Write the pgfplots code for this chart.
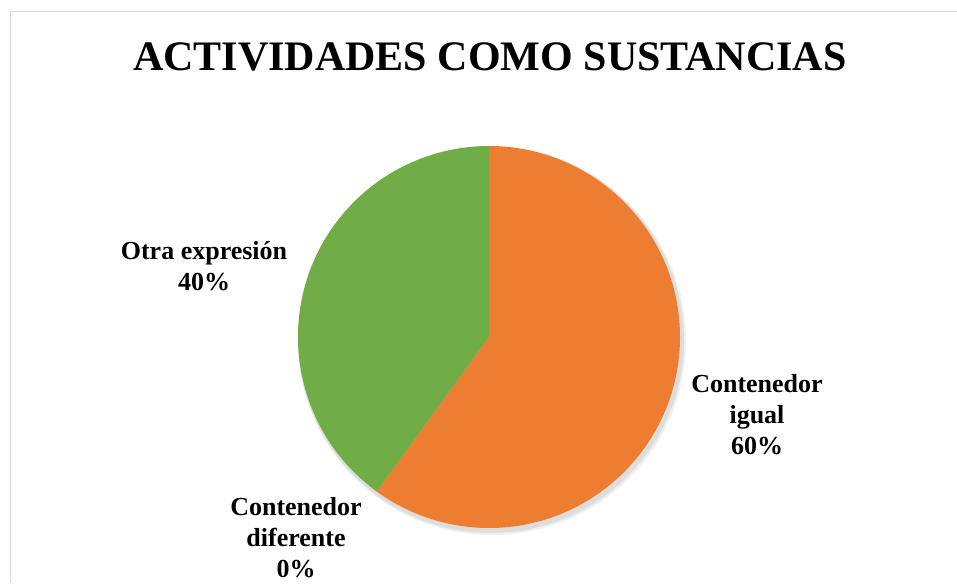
\documentclass[border=0pt]{standalone}
\usepackage{pgfplots}
\pgfplotsset{compat=1.18}
\usepackage{pgfplotstable}
\usepackage{fontspec}
\setmainfont{Liberation Serif}
\definecolor{orng}{HTML}{ED7D31}
\definecolor{grn}{HTML}{70AD47}
\definecolor{framec}{HTML}{D9D9D9}
\pgfplotstableread{
label value
igual 60
diferente 0
otra 40
}\piedata
\begin{document}
\begin{tikzpicture}
\useasboundingbox (0,0) rectangle (957pt,583pt);
\pgfplotstablegetelem{0}{value}\of\piedata \let\va\pgfplotsretval
\pgfplotstablegetelem{1}{value}\of\piedata \let\vb\pgfplotsretval
\pgfplotstablegetelem{2}{value}\of\piedata \let\vc\pgfplotsretval
\pgfmathsetmacro{\total}{\va+\vb+\vc}
\pgfmathsetmacro{\aA}{90}
\pgfmathsetmacro{\aB}{90-3.6*(100*\va/\total)}
\pgfmathsetmacro{\aC}{\aB-3.6*(100*\vb/\total)}
\pgfmathsetmacro{\aD}{\aC-3.6*(100*\vc/\total)}
\begin{axis}[at={(0,0)}, anchor=south west, scale only axis, width=957pt, height=583pt,
  xmin=0, xmax=957, ymin=0, ymax=583, hide axis, clip=false]
% frame
\draw[framec, line width=1pt] (axis cs:10,0) -- (axis cs:10,571) -- (axis cs:957,571);
% shadow
\fill[black, opacity=0.08] (axis cs:491,243) circle[radius=193pt];
\fill[black, opacity=0.06] (axis cs:492,242) circle[radius=194pt];
% slices
\fill[orng] (axis cs:489,246) -- ++(\aA:191pt) arc[start angle=\aA, end angle=\aB, radius=191pt] -- cycle;
\fill[grn] (axis cs:489,246) -- ++(\aC:191pt) arc[start angle=\aC, end angle=\aD, radius=191pt] -- cycle;
% title
\node[font=\bfseries\fontsize{42}{50}\selectfont] at (axis cs:490,526) {ACTIVIDADES COMO SUSTANCIAS};
% labels
\node[font=\bfseries\fontsize{26}{31}\selectfont, align=center] at (axis cs:204,317) {Otra expresión\\\vc\%};
\node[font=\bfseries\fontsize{26}{31}\selectfont, align=center] at (axis cs:757,168) {Contenedor\\igual\\\va\%};
\node[font=\bfseries\fontsize{26}{31}\selectfont, align=center] at (axis cs:296,45) {Contenedor\\diferente\\\vb\%};
\end{axis}
\end{tikzpicture}
\end{document}
